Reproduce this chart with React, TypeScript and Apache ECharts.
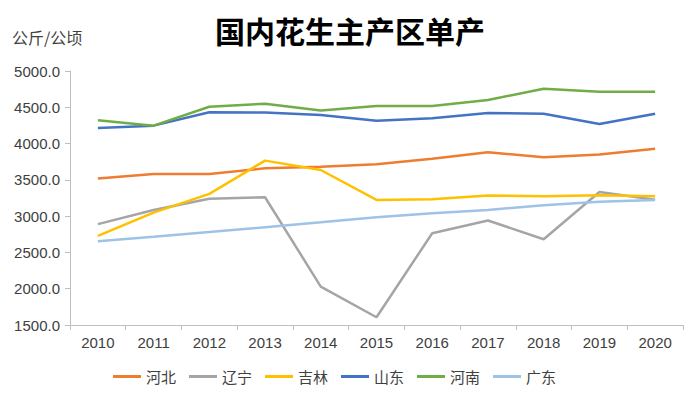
import React, { useEffect, useRef } from "react";
import * as echarts from "echarts";

const years = ["2010", "2011", "2012", "2013", "2014", "2015", "2016", "2017", "2018", "2019", "2020"];
const hebei = [3520, 3580, 3580, 3660, 3680, 3715, 3790, 3880, 3810, 3850, 3930];
const liaoning = [2890, 3085, 3240, 3260, 2030, 1607, 2765, 2940, 2682, 3333, 3225];
const jilin = [2727, 3048, 3306, 3765, 3636, 3223, 3233, 3283, 3274, 3288, 3274];
const shandong = [4215, 4247, 4431, 4428, 4394, 4316, 4348, 4421, 4412, 4270, 4412];
const henan = [4321, 4247, 4508, 4550, 4456, 4518, 4518, 4600, 4756, 4715, 4715];
const guangdong = [2654, 2715, 2780, 2847, 2915, 2985, 3040, 3085, 3150, 3200, 3223];

const seriesNames = ["河北", "辽宁", "吉林", "山东", "河南", "广东"];
const seriesData = [hebei, liaoning, jilin, shandong, henan, guangdong];
const colors = ["#ED7D31", "#A5A5A5", "#FFC000", "#4472C4", "#70AD47", "#9DC3E6"];

const CJK = "'Noto Sans CJK SC', sans-serif";
const NUM = "'Liberation Sans', 'Noto Sans CJK SC', sans-serif";

export default function App() {
  const ref = useRef<HTMLDivElement>(null);
  useEffect(() => {
    if (!ref.current) return;
    const chart = echarts.init(ref.current, undefined, { renderer: "svg" });
    chart.setOption({
      animation: false,
      backgroundColor: "#ffffff",
      title: {
        text: "国内花生主产区单产",
        left: "center",
        top: 10,
        textStyle: { fontFamily: CJK, fontSize: 30, fontWeight: "bold", color: "#000000" },
      },
      graphic: [
        {
          type: "text",
          left: 12,
          top: 29,
          style: { text: "公斤/公顷", fontFamily: CJK, fontSize: 16, fill: "#404040" },
        },
      ],
      legend: {
        data: seriesNames,
        top: 364,
        left: 108,
        itemWidth: 28,
        itemHeight: 3,
        itemGap: 13,
        icon: "rect",
        textStyle: { fontFamily: CJK, fontSize: 15, color: "#404040" },
      },
      grid: { left: 70, right: 17, top: 71, bottom: 74 },
      xAxis: {
        type: "category",
        data: years,
        boundaryGap: true,
        axisLine: { lineStyle: { color: "#BFBFBF", width: 1 } },
        axisTick: { show: true, alignWithLabel: false, length: 5, lineStyle: { color: "#BFBFBF" } },
        axisLabel: { fontFamily: NUM, fontSize: 15, color: "#404040", margin: 10 },
      },
      yAxis: {
        type: "value",
        min: 1500,
        max: 5000,
        interval: 500,
        axisLine: { show: true, lineStyle: { color: "#BFBFBF", width: 1 } },
        axisTick: { show: true, length: 5, lineStyle: { color: "#BFBFBF" } },
        splitLine: { show: false },
        axisLabel: {
          fontFamily: NUM,
          fontSize: 15,
          color: "#404040",
          margin: 10,
          formatter: (v: number) => v.toFixed(1),
        },
      },
      series: seriesNames.map((name, i) => ({
        name,
        type: "line",
        data: seriesData[i],
        symbol: "none",
        lineStyle: { color: colors[i], width: 2.5 },
        itemStyle: { color: colors[i] },
      })),
    });
    return () => chart.dispose();
  }, []);
  return (
    <div
      ref={ref}
      style={{ position: "fixed", left: 0, top: 0, width: 700, height: 399 }}
    />
  );
}
